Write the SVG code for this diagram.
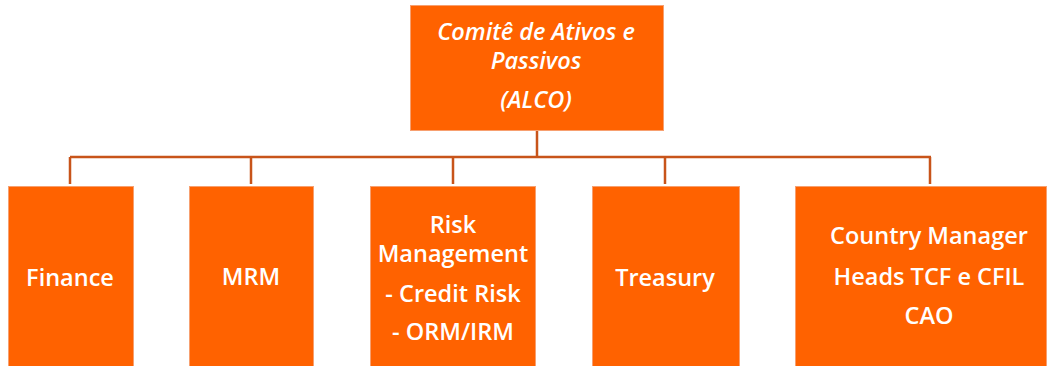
<svg xmlns="http://www.w3.org/2000/svg" width="1050" height="366" viewBox="0 0 1050 366">
<style>
.box{fill:#FF6200;stroke:#F7A070;stroke-width:1}
.t{fill:#FFFFFF;font-family:"Open Sans","Liberation Sans",sans-serif;font-size:23.5px;font-weight:600;text-anchor:middle}
.it{font-style:italic}
.c{fill:none;stroke:#C8541A;stroke-width:2.5}
</style>
<rect width="1050" height="366" fill="#FFFFFF"/>
<g id="connectors">
<path class="c" d="M537 130V157M70 157H931M70 157V184M251 157V184M453 157V184M665 157V184M930 157V184"/>
</g>
<g id="alco">
<rect class="box" x="410.5" y="5.5" width="253" height="125"/>
<text class="t it" x="536" y="40">Comitê de Ativos e</text>
<text class="t it" x="536" y="69">Passivos</text>
<text class="t it" x="536" y="108">(ALCO)</text>
</g>
<g id="finance">
<rect class="box" x="8.5" y="186.5" width="125" height="182"/>
<text class="t" x="70" y="286">Finance</text>
</g>
<g id="mrm">
<rect class="box" x="189.5" y="186.5" width="124" height="182"/>
<text class="t" x="251" y="285">MRM</text>
</g>
<g id="risk">
<rect class="box" x="370.5" y="186.5" width="165" height="182"/>
<text class="t" x="453" y="233">Risk</text>
<text class="t" x="453" y="262">Management</text>
<text class="t" x="453" y="302">- Credit Risk</text>
<text class="t" x="453" y="340">- ORM/IRM</text>
</g>
<g id="treasury">
<rect class="box" x="592.5" y="186.5" width="147" height="182"/>
<text class="t" x="665" y="286">Treasury</text>
</g>
<g id="country">
<rect class="box" x="795.5" y="186.5" width="251" height="182"/>
<text class="t" x="929" y="244">Country Manager</text>
<text class="t" x="929" y="285">Heads TCF e CFIL</text>
<text class="t" x="929" y="324">CAO</text>
</g>
</svg>
